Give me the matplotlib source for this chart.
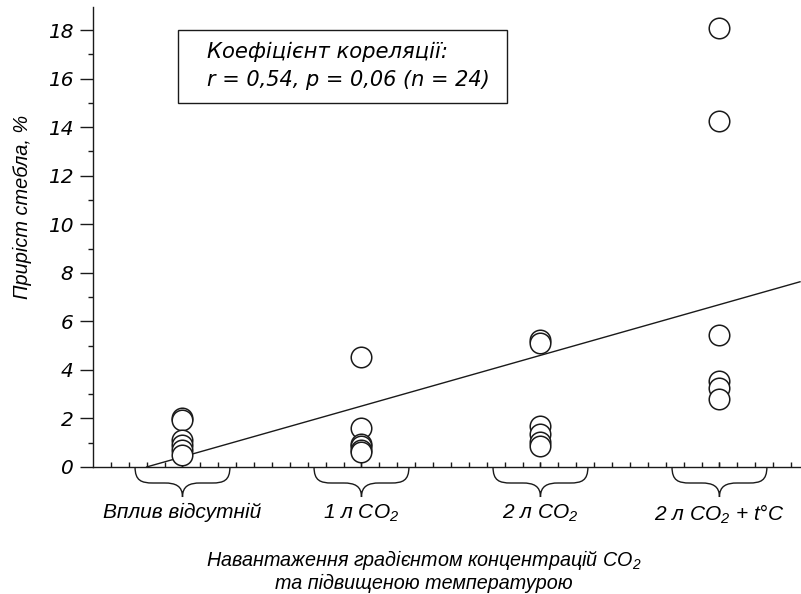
import matplotlib
matplotlib.use("Agg")
import matplotlib.pyplot as plt
import matplotlib.transforms as mtransforms
from matplotlib.path import Path
from matplotlib.patches import PathPatch, Rectangle
import numpy as np

plt.rcParams['font.family'] = ['Liberation Sans', 'DejaVu Sans']
plt.rcParams['font.style'] = 'italic'
plt.rcParams['mathtext.fontset'] = 'custom'
plt.rcParams['mathtext.rm'] = 'Liberation Sans:italic'
plt.rcParams['mathtext.it'] = 'Liberation Sans:italic'
plt.rcParams['mathtext.default'] = 'it'

# ---- data ----
categories = ["Вплив відсутній", "1 л CO$_2$", "2 л CO$_2$", "2 л CO$_2$ + t°C"]
group_pos = [1, 2, 3, 4]
g_none = [2.0, 1.95, 1.1, 0.9, 0.7, 0.5]
g_co2_1 = [4.55, 1.6, 0.95, 0.85, 0.7, 0.6]
g_co2_2 = [5.25, 5.1, 1.7, 1.35, 1.05, 0.85]
g_co2_t = [18.1, 14.25, 5.45, 3.55, 3.25, 2.8]
groups = [g_none, g_co2_1, g_co2_2, g_co2_t]
trend_slope = 2.09
trend_intercept = -1.67
trend_x_start = 0.80
y_ticks = [0, 2, 4, 6, 8, 10, 12, 14, 16, 18]
annot_line1 = "Коефіцієнт кореляції:"
annot_line2 = "r = 0,54, p = 0,06 (n = 24)"
xlabel_line1 = "Навантаження градієнтом концентрацій CO$_2$"
xlabel_line2 = "та підвищеною температурою"
ylabel_text = "Приріст стебла, %"

W, H = 801, 594
fig = plt.figure(figsize=(W / 100, H / 100), dpi=100)
ax_l, ax_r, ax_t, ax_b = 93, 800, 7, 467
ax = fig.add_axes([ax_l / W, 1 - ax_b / H, (ax_r - ax_l) / W, (ax_b - ax_t) / H])

xmin, xmax = 0.5, 4.45
ax.set_xlim(xmin, xmax)
ax.set_ylim(0, 18.95)

# trend line
tx = np.array([trend_x_start, xmax])
ax.plot(tx, trend_slope * tx + trend_intercept, color='#1a1a1a', lw=1.0, zorder=2, clip_on=False)

# points
for pos, vals in zip(group_pos, groups):
    ax.plot([pos] * len(vals), vals, linestyle='none', marker='o', ms=14.8,
            mfc='white', mec='#1a1a1a', mew=1.1, zorder=3, clip_on=False)

# spines
for s in ['top', 'right']:
    ax.spines[s].set_visible(False)
for s in ['left', 'bottom']:
    ax.spines[s].set_linewidth(1.0)
    ax.spines[s].set_color('#1a1a1a')

# y ticks
ax.set_yticks(y_ticks)
ax.set_yticklabels([str(v) for v in y_ticks], fontfamily='DejaVu Sans')
ax.set_yticks(np.arange(1, 19, 2), minor=True)
ax.tick_params(axis='y', which='major', direction='out', length=9.5, width=1.0,
               pad=4.5, labelsize=14.5, color='#1a1a1a')
ax.tick_params(axis='y', which='minor', direction='out', length=3.6, width=1.0, color='#1a1a1a')

# x ticks
ax.set_xticks(group_pos)
ax.set_xticklabels(categories)
ax.set_xticks(np.round(np.arange(0.6, 4.41, 0.1), 2), minor=True)
ax.xaxis.remove_overlapping_locs = False
ax.tick_params(axis='x', which='major', direction='in', length=3.6, width=1.0,
               pad=26, labelsize=15, color='#1a1a1a')
ax.tick_params(axis='x', which='minor', direction='in', length=3.6, width=1.0, color='#1a1a1a')

# braces
trans = mtransforms.blended_transform_factory(ax.transData, ax.transAxes)
w = 0.265
r = 0.10
h1 = 16 / (ax_b - ax_t)
h2 = 30 / (ax_b - ax_t)
for xc in group_pos:
    x0, x1 = xc - w, xc + w
    verts = [
        (x0, 0),
        (x0, -h1 * 0.85), (x0 + r * 0.35, -h1), (x0 + r, -h1),
        (xc - r, -h1),
        (xc - r * 0.4, -h1), (xc, -h1 - (h2 - h1) * 0.2), (xc, -h2),
        (xc, -h1 - (h2 - h1) * 0.2), (xc + r * 0.4, -h1), (xc + r, -h1),
        (x1 - r, -h1),
        (x1 - r * 0.35, -h1), (x1, -h1 * 0.85), (x1, 0),
    ]
    codes = [Path.MOVETO,
             Path.CURVE4, Path.CURVE4, Path.CURVE4,
             Path.LINETO,
             Path.CURVE4, Path.CURVE4, Path.CURVE4,
             Path.CURVE4, Path.CURVE4, Path.CURVE4,
             Path.LINETO,
             Path.CURVE4, Path.CURVE4, Path.CURVE4]
    ax.add_patch(PathPatch(Path(verts, codes), transform=trans, fill=False,
                           lw=1.0, edgecolor='#1a1a1a', clip_on=False))

# annotation box
bx0, bx1 = (178 - ax_l) / (ax_r - ax_l), (507 - ax_l) / (ax_r - ax_l)
by0, by1 = (ax_b - 103) / (ax_b - ax_t), (ax_b - 30) / (ax_b - ax_t)
ax.add_patch(Rectangle((bx0, by0), bx1 - bx0, by1 - by0, transform=ax.transAxes,
                       fill=False, lw=1.0, edgecolor='#1a1a1a'))
tx0 = (207 - ax_l) / (ax_r - ax_l)
ax.text(tx0, (ax_b - 52) / (ax_b - ax_t), annot_line1, transform=ax.transAxes,
        ha='left', va='center', fontsize=15.2, fontfamily='DejaVu Sans')
ax.text(tx0, (ax_b - 80) / (ax_b - ax_t), annot_line2, transform=ax.transAxes,
        ha='left', va='center', fontsize=15.0, fontfamily='DejaVu Sans')

# axis labels
fig.text(424 / W, 1 - 566 / H, xlabel_line1, ha='center', va='baseline', fontsize=14.2)
fig.text(424 / W, 1 - 589 / H, xlabel_line2, ha='center', va='baseline', fontsize=14.2)
fig.text(22 / W, 1 - 207 / H, ylabel_text, ha='center', va='center',
         rotation=90, fontsize=14.4)

fig.savefig("out.png", dpi=100)
